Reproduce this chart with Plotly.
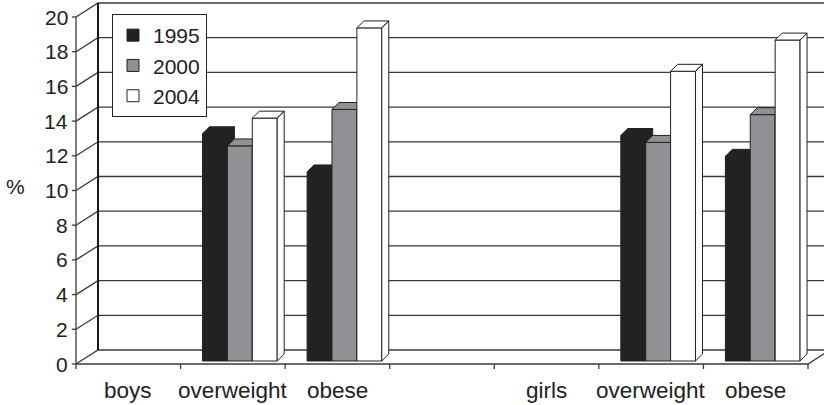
import plotly.graph_objects as go

# ---- data -------------------------------------------------------------
categories = ["boys", "overweight", "obese", "", "girls", "overweight", "obese"]
years = ["1995", "2000", "2004"]
values_1995 = [None, 13.1, 10.9, None, None, 13.0, 11.8]
values_2000 = [None, 12.4, 14.5, None, None, 12.6, 14.2]
values_2004 = [None, 14.0, 19.2, None, None, 16.7, 18.5]
y_ticks = list(range(0, 21, 2))
series_values = [values_1995, values_2000, values_2004]

# ---- styling / pseudo-3D geometry (data units) ------------------------
series_colors = ["#232221", "#909194", "#ffffff"]
EDGE = "#222222"
GRID = "#3a3a3a"
FONT = "Liberation Sans, Arial, sans-serif"

W, H = 824, 405
X_RANGE = [-0.7268, 7.1530]
Y_RANGE = [-2.3631, 20.980]

WALL_DX, WALL_DY = 0.2104, 0.807     # depth of the back wall
BAR_BASE = 0.173                     # bar front plane sits slightly behind the floor edge
BAR_DX, BAR_DY = 0.067, 0.40         # depth of each column
GROUP_OFFSET, BAR_W = 0.21, 0.238
N_CAT = len(categories)
Y_MAX = max(y_ticks)

fig = go.Figure()

# ---- walls, floor and axis lines -------------------------------------
gx, gy = [], []
for v in y_ticks:
    gx += [0, WALL_DX, N_CAT + WALL_DX, None]
    gy += [v, v + WALL_DY, v + WALL_DY, None]
# floor front edge and right diagonal
gx += [0, N_CAT, N_CAT + WALL_DX, None]
gy += [0, 0, WALL_DY, None]
# front value axis and its ticks
gx += [0, 0, None]
gy += [0, Y_MAX, None]
for v in y_ticks:
    gx += [-0.04, 0, None]
    gy += [v, v, None]
# category ticks
for i in range(N_CAT + 1):
    gx += [i, i, None]
    gy += [0, -0.29, None]
fig.add_trace(go.Scatter(x=gx, y=gy, mode="lines", line=dict(color=GRID, width=1.3),
                         hoverinfo="skip", showlegend=False))
# left edge of the back wall
fig.add_trace(go.Scatter(x=[WALL_DX, WALL_DX], y=[WALL_DY, Y_MAX + WALL_DY], mode="lines",
                         line=dict(color="#1a1a1a", width=2), hoverinfo="skip", showlegend=False))

# ---- columns: one overlaid subplot per series so later series sit in front
for k, (year, vals, color) in enumerate(zip(years, series_values, series_colors)):
    ax = k + 2
    xs, ys = [], []
    fx, fy = [], []
    for i, v in enumerate(vals):
        if v is None:
            continue
        xc = i + GROUP_OFFSET + BAR_W * (k + 0.5)
        xs.append(xc)
        ys.append(v)
        xl, xr = xc - BAR_W / 2, xc + BAR_W / 2
        top = BAR_BASE + v
        # top face
        fx += [xl, xr, xr + BAR_DX, xl + BAR_DX, xl, None]
        fy += [top, top, top + BAR_DY, top + BAR_DY, top, None]
        # right side face
        fx += [xr, xr, xr + BAR_DX, xr + BAR_DX, xr, None]
        fy += [BAR_BASE, top, top + BAR_DY, BAR_BASE + BAR_DY, BAR_BASE, None]
    fig.add_trace(go.Bar(x=xs, y=ys, base=BAR_BASE, width=BAR_W, name=year,
                         marker=dict(color=color, line=dict(color=EDGE, width=1)),
                         xaxis=f"x{ax}", yaxis=f"y{ax}", legendgroup=year))
    fig.add_trace(go.Scatter(x=fx, y=fy, mode="lines", fill="toself", fillcolor=color,
                             line=dict(color=EDGE, width=1), hoverinfo="skip",
                             showlegend=False, xaxis=f"x{ax}", yaxis=f"y{ax}"))

# ---- text ---------------------------------------------------------------
ann = []
for v in y_ticks:
    ann.append(dict(x=-0.057, y=v, text=str(v), xanchor="right", yanchor="middle",
                    font=dict(size=21)))
for i, c in enumerate(categories):
    if c:
        ann.append(dict(x=i + 0.5, y=-1.50, text=c, xanchor="center", yanchor="middle",
                        font=dict(size=22.5)))
ann.append(dict(x=-0.583, y=10.25, text="%", xanchor="center", yanchor="middle",
                font=dict(size=21)))
for a in ann:
    a.update(xref="x", yref="y", showarrow=False)
    a["font"].update(color="#222222", family=FONT)

axis_common = dict(visible=False, showgrid=False, zeroline=False, fixedrange=True)
layout = dict(
    width=W, height=H, autosize=False,
    margin=dict(l=0, r=0, t=0, b=0),
    paper_bgcolor="white", plot_bgcolor="white",
    font=dict(family=FONT, color="#222222"),
    xaxis=dict(range=X_RANGE, domain=[0, 1], **axis_common),
    yaxis=dict(range=Y_RANGE, domain=[0, 1], **axis_common),
    annotations=ann,
    showlegend=True,
    legend=dict(x=112 / W, y=1 - 14 / H, xanchor="left", yanchor="top",
                bgcolor="white", bordercolor="#222222", borderwidth=1,
                font=dict(size=21, family=FONT, color="#222222"),
                tracegroupgap=4, traceorder="normal",
                entrywidth=60, entrywidthmode="pixels"),
)
for k in range(len(years)):
    ax = k + 2
    layout[f"xaxis{ax}"] = dict(range=X_RANGE, overlaying="x", anchor=f"y{ax}", **axis_common)
    layout[f"yaxis{ax}"] = dict(range=Y_RANGE, overlaying="y", anchor=f"x{ax}", **axis_common)
fig.update_layout(**layout)

fig.write_html("out.html")
